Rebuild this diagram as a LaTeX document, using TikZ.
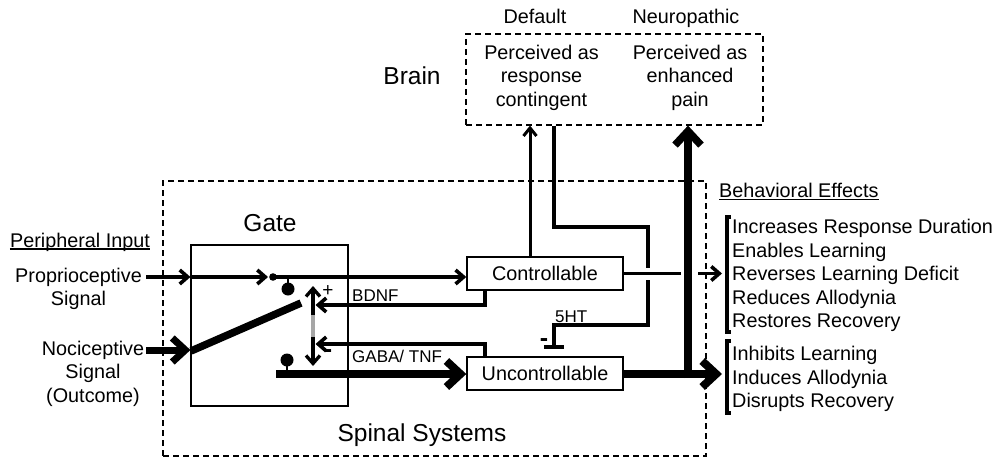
\documentclass[tikz,border=0pt]{standalone}
\usepackage{fontspec}
\setmainfont{Liberation Sans}
\usetikzlibrary{arrows.meta}
\tikzset{
  fm/.style={font=\fontsize{19.8}{23.6}\selectfont, inner sep=0pt},
  fb/.style={font=\fontsize{24.5}{28}\selectfont, inner sep=0pt},
  fs/.style={font=\fontsize{17}{20}\selectfont, inner sep=0pt},
  fminus/.style={font=\fontsize{25}{26}\bfseries, inner sep=0pt},
  sysbox/.style={draw, line width=1.4pt, minimum width=156pt, minimum height=33pt, inner sep=0pt, fm},
  dashbox/.style={draw, line width=1.2pt, dash pattern=on 6pt off 4pt, inner sep=0pt},
  ln/.style={line width=3.6pt},
  sarrow/.style={ln, -{Straight Barb[length=8pt,width=14pt]}},
  uarrow/.style={line width=3pt, -{Straight Barb[length=8pt,width=13pt]}},
  barrow/.style={line width=8pt, -{Straight Barb[length=14pt,width=26pt]}},
  narrow/.style={line width=7pt, -{Straight Barb[length=13pt,width=24pt]}},
  vtip/.style={line width=3.3pt},
}
\begin{document}
\begin{tikzpicture}[x=1pt,y=-1pt]
\useasboundingbox (0,0) rectangle (995,460);

% frames
\node[dashbox, minimum width=543pt, minimum height=275pt] (spinal) at (434.5,318.5) {};
\node[dashbox, minimum width=297pt, minimum height=91pt] (brainbox) at (614.5,79.5) {};
\node[draw, line width=1.1pt, minimum width=157pt, minimum height=161pt, inner sep=0pt] (gate) at (269.5,325.5) {};
\node[sysbox] (ctrl) at (545,273.5) {Controllable};
\node[sysbox] (unc) at (545,373.5) {Uncontrollable};

% labels
\node[fm, anchor=base] (default) at (535,24) {Default};
\node[fm, anchor=base] (neuro) at (686,24) {Neuropathic};
\node[fm, align=center] (perc1) at (541.5,77.5) {Perceived as\\response\\contingent};
\node[fm, align=center] (perc2) at (690,77.5) {Perceived as\\enhanced\\pain};
\node[fb, anchor=base] (brain) at (412,84.8) {Brain};
\node[fb, anchor=base] (gatelbl) at (270,231.8) {Gate};
\node[fb, anchor=base] (spinlbl) at (422,441.8) {Spinal Systems};
\node[fm, anchor=base] (periph) at (80,247) {Peripheral Input};
\node[fm, align=center] (proprio) at (78.5,288.8) {Proprioceptive\\Signal};
\node[fm, align=center] (noci) at (93,373.5) {Nociceptive\\Signal\\(Outcome)};
\node[fm, anchor=base west] (beh) at (719,197) {Behavioral Effects};
\node[fm, anchor=west, align=left] (eff1) at (732,275.6) {Increases Response Duration\\Enables Learning\\Reverses Learning Deficit\\Reduces Allodynia\\Restores Recovery};
\node[fm, anchor=west, align=left] (eff2) at (732,379) {Inhibits Learning\\Induces Allodynia\\Disrupts Recovery};
\node[fs, anchor=base west] (bdnf) at (352,301) {BDNF};
\node[fs, anchor=base west] (gaba) at (352,362) {GABA/ TNF};
\node[fs, anchor=base west] (fiveht) at (555,322) {5HT};
\node[font=\fontsize{19}{20}\selectfont, inner sep=0pt] (plus) at (328,291) {+};
\node[fminus] (minus) at (328,354) {-};
\node[fminus] (minus2) at (544,343) {-};

% underlines
\draw[line width=1.2pt] ([yshift=-2pt]periph.base west) -- ([yshift=-2pt]periph.base east);
\draw[line width=1.2pt] ([yshift=-2.5pt]beh.base west) -- ([yshift=-2.5pt]beh.base east);

% coordinates
\coordinate (propstart) at (146,277);
\coordinate (pdot) at (273,277);
\coordinate (pdotin) at (268,277);
\coordinate (lolA) at (288,289);
\coordinate (levA) at (191,351);
\coordinate (levB) at (301,303);
\coordinate (nocistart) at (146,350);
\coordinate (lolB) at (287,360);
\coordinate (thstart) at (276,374);
\coordinate (vtop) at (313,286);
\coordinate (vg1) at (313,315);
\coordinate (vg2) at (313,337);
\coordinate (vbot) at (313,366);
\coordinate (bd) at (315.5,305);
\coordinate (gb) at (315.5,344);
\coordinate (k1) at (648,227);
\coordinate (k2) at (648,268);
\coordinate (k3) at (648,280);
\coordinate (k4) at (554,325);
\coordinate (tb) at (554,349);
\coordinate (cgap) at (681,273.5);
\coordinate (ca1) at (698,273.5);
\coordinate (ca2) at (722,273.5);
\coordinate (ua) at (722,374);
\coordinate (vthick) at (688,378);

% gate internals
\draw[sarrow] (propstart) -- (gate.west |- propstart);
\draw[sarrow] (gate.west |- propstart) -- (pdotin);
\fill (pdot) circle (3.8pt);
\draw[sarrow] (pdot) -- (ctrl.west |- pdot);
\draw[line width=2.4pt] (lolA |- pdot) -- (lolA);
\fill (lolA) circle (6.5pt);
\draw[line width=7.5pt] (levA) -- (levB);
\draw[narrow] (nocistart) -- (gate.west |- nocistart);
\fill (lolB) circle (6.5pt);
\draw[line width=2.4pt] (lolB) -- (lolB |- thstart);
\draw[barrow] (thstart) -- (unc.west |- thstart);

% vertical double arrow
\draw[vtip, {Straight Barb[length=8pt,width=14pt]}-] (vtop) -- (vg1);
\draw[vtip, color=black!35] (vg1) -- (vg2);
\draw[vtip, -{Straight Barb[length=8pt,width=14pt]}] (vg2) -- (vbot);

% feedback
\draw[sarrow] ([xshift=-60pt]ctrl.south) |- (bd);
\draw[sarrow] ([xshift=-60pt]unc.north) |- (gb);

% to brain
\draw[uarrow] ([xshift=-15pt]ctrl.north) -- ([xshift=-15pt]ctrl.north |- brainbox.south);
\draw[line width=4.2pt] (brainbox.south -| k4) |- (k1) -- (k2);
\draw[ln, -{Bar[width=20pt,line width=4pt]}] (k3) |- (k4) -- (tb);

% outputs
\draw[ln] (ctrl.east) -- (cgap);
\draw[sarrow] (ca1) -- (ca2);
\draw[barrow] (unc.east |- ua) -- (ua);
\draw[barrow, line width=7.5pt] (vthick) -- (vthick |- brainbox.south);

% brackets
\draw[line width=3.5pt] (731,217) -- (727,217) -- (727,332) -- (731,332);
\draw[line width=3.5pt] (731,341) -- (727,341) -- (727,413) -- (731,413);
\end{tikzpicture}
\end{document}
